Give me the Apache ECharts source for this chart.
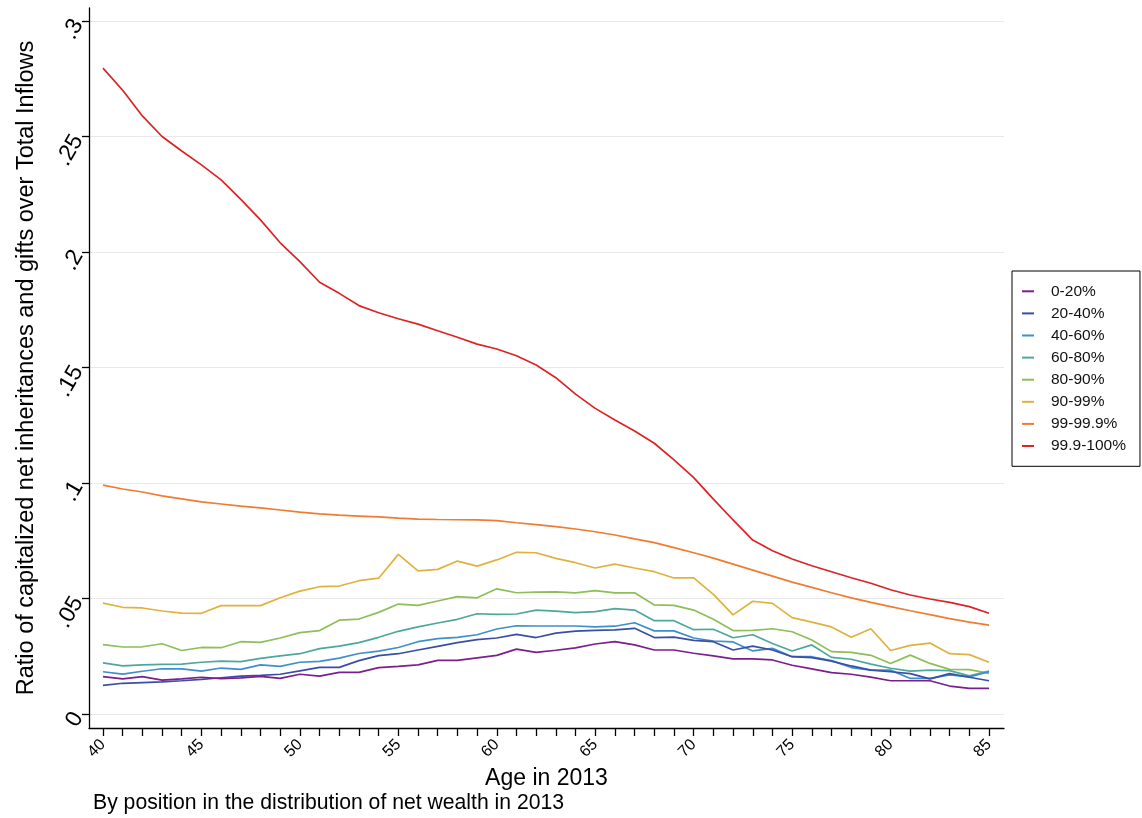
<!DOCTYPE html>
<html>
<head>
<meta charset="utf-8">
<script src="https://cdn.jsdelivr.net/npm/echarts@6/dist/echarts.min.js"></script>
<style>
  html, body { margin: 0; padding: 0; background: #fff; }
  #chart { width: 1142px; height: 818px; }
</style>
</head>
<body>
<div id="chart"></div>
<script>
// ages 40..85
var ages = [];
for (var a = 40; a <= 85; a++) ages.push(a);

var groupNames = ['0-20%', '20-40%', '40-60%', '60-80%', '80-90%', '90-99%', '99-99.9%', '99.9-100%'];
var groupColors = ['#7b1f8e', '#3b4ea6', '#3f8fcc', '#4ea79c', '#8cbf57', '#e0b23d', '#ef7c30', '#dd2323'];

var p0_20 = [0.0162, 0.0152, 0.0162, 0.0147, 0.0152, 0.0159, 0.0153, 0.0156, 0.0163, 0.0154,
  0.0172, 0.0164, 0.0180, 0.0180, 0.0201, 0.0206, 0.0213, 0.0232, 0.0232, 0.0243,
  0.0254, 0.0281, 0.0267, 0.0276, 0.0286, 0.0303, 0.0313, 0.0299, 0.0277, 0.0277,
  0.0263, 0.0252, 0.0239, 0.0239, 0.0234, 0.0211, 0.0195, 0.0179, 0.0172, 0.0160,
  0.0144, 0.0144, 0.0144, 0.0121, 0.0111, 0.0111];
var p20_40 = [0.0124, 0.0133, 0.0136, 0.0139, 0.0144, 0.0150, 0.0157, 0.0164, 0.0167, 0.0172,
  0.0187, 0.0202, 0.0202, 0.0231, 0.0253, 0.0261, 0.0277, 0.0293, 0.0309, 0.0322,
  0.0329, 0.0345, 0.0331, 0.0350, 0.0359, 0.0362, 0.0364, 0.0371, 0.0331, 0.0333,
  0.0319, 0.0313, 0.0277, 0.0294, 0.0277, 0.0248, 0.0244, 0.0229, 0.0208, 0.0190,
  0.0183, 0.0175, 0.0152, 0.0175, 0.0159, 0.0144];
var p40_60 = [0.0183, 0.0173, 0.0185, 0.0196, 0.0195, 0.0186, 0.0199, 0.0193, 0.0213, 0.0206,
  0.0224, 0.0228, 0.0242, 0.0262, 0.0272, 0.0288, 0.0313, 0.0326, 0.0332, 0.0343,
  0.0368, 0.0382, 0.0381, 0.0381, 0.0381, 0.0377, 0.0380, 0.0395, 0.0360, 0.0360,
  0.0329, 0.0316, 0.0312, 0.0273, 0.0284, 0.0248, 0.0248, 0.0231, 0.0201, 0.0190,
  0.0190, 0.0154, 0.0154, 0.0169, 0.0161, 0.0183];
var p60_80 = [0.0221, 0.0208, 0.0213, 0.0215, 0.0216, 0.0224, 0.0229, 0.0227, 0.0241, 0.0252,
  0.0261, 0.0283, 0.0294, 0.0309, 0.0332, 0.0358, 0.0377, 0.0394, 0.0410, 0.0434,
  0.0431, 0.0433, 0.0450, 0.0445, 0.0439, 0.0443, 0.0456, 0.0450, 0.0404, 0.0404,
  0.0365, 0.0367, 0.0330, 0.0343, 0.0305, 0.0273, 0.0299, 0.0245, 0.0237, 0.0216,
  0.0198, 0.0186, 0.0190, 0.0188, 0.0165, 0.0186];
var p80_90 = [0.0300, 0.0290, 0.0291, 0.0304, 0.0275, 0.0288, 0.0287, 0.0313, 0.0310, 0.0329,
  0.0352, 0.0361, 0.0406, 0.0411, 0.0440, 0.0476, 0.0470, 0.0489, 0.0508, 0.0503,
  0.0542, 0.0525, 0.0528, 0.0529, 0.0524, 0.0534, 0.0524, 0.0525, 0.0472, 0.0470,
  0.0450, 0.0410, 0.0361, 0.0362, 0.0369, 0.0356, 0.0320, 0.0270, 0.0267, 0.0254,
  0.0219, 0.0255, 0.0219, 0.0193, 0.0192, 0.0176];
var p90_99 = [0.0480, 0.0462, 0.0459, 0.0446, 0.0437, 0.0436, 0.0469, 0.0469, 0.0469, 0.0503,
  0.0532, 0.0551, 0.0554, 0.0577, 0.0588, 0.0691, 0.0620, 0.0626, 0.0662, 0.0640,
  0.0667, 0.0700, 0.0698, 0.0674, 0.0655, 0.0632, 0.0649, 0.0632, 0.0616, 0.0589,
  0.0589, 0.0518, 0.0429, 0.0488, 0.0479, 0.0417, 0.0398, 0.0377, 0.0332, 0.0369,
  0.0275, 0.0297, 0.0307, 0.0261, 0.0257, 0.0224];
var p99_999 = [0.0991, 0.0974, 0.0961, 0.0944, 0.0931, 0.0918, 0.0909, 0.0900, 0.0892, 0.0883,
  0.0874, 0.0866, 0.0861, 0.0857, 0.0853, 0.0848, 0.0844, 0.0842, 0.0841, 0.0840,
  0.0837, 0.0828, 0.0820, 0.0811, 0.0801, 0.0789, 0.0775, 0.0758, 0.0742, 0.0720,
  0.0698, 0.0675, 0.0649, 0.0623, 0.0597, 0.0571, 0.0548, 0.0525, 0.0503, 0.0483,
  0.0465, 0.0447, 0.0430, 0.0413, 0.0398, 0.0385];
var p999_100 = [0.2796, 0.2700, 0.2589, 0.2500, 0.2437, 0.2377, 0.2312, 0.2228, 0.2139, 0.2040,
  0.1958, 0.1869, 0.1821, 0.1768, 0.1737, 0.1711, 0.1688, 0.1659, 0.1631, 0.1601,
  0.1580, 0.1551, 0.1511, 0.1456, 0.1385, 0.1323, 0.1273, 0.1225, 0.1172, 0.1100,
  0.1023, 0.0930, 0.0840, 0.0753, 0.0707, 0.0671, 0.0642, 0.0616, 0.0590, 0.0566,
  0.0538, 0.0515, 0.0498, 0.0483, 0.0465, 0.0436];

var xLabelValues = [40, 45, 50, 55, 60, 65, 70, 75, 80, 85];
var yTickValues = [0, 0.05, 0.1, 0.15, 0.2, 0.25, 0.3];

var allSeries = [p0_20, p20_40, p40_60, p60_80, p80_90, p90_99, p99_999, p999_100];

var chart = echarts.init(document.getElementById('chart'));
var font = 'Liberation Sans, Arial, sans-serif';

var series = allSeries.map(function (vals, i) {
  return {
    name: groupNames[i],
    type: 'line',
    showSymbol: false,
    silent: true,
    data: ages.map(function (age, j) { return [age, vals[j]]; }),
    lineStyle: { color: groupColors[i], width: 1.7 },
    itemStyle: { color: groupColors[i] },
    z: 10 - i
  };
});

var option = {
  animation: false,
  textStyle: { fontFamily: font },
  title: {
    text: 'By position in the distribution of net wealth in 2013',
    left: 93,
    top: 793,
    padding: 0,
    textStyle: { fontFamily: font, fontSize: 21.2, fontWeight: 'normal', color: '#000' }
  },
  grid: { left: 89, right: 138, top: 8, bottom: 90 },
  legend: {
    orient: 'vertical',
    left: 1012,
    top: 271,
    padding: [12, 14, 12, 10],
    borderColor: '#000',
    borderWidth: 1,
    itemWidth: 12,
    itemHeight: 2,
    itemGap: 5.5,
    icon: 'rect',
    textStyle: { fontFamily: font, fontSize: 15.5, color: '#111', lineHeight: 16.6, padding: [0, 0, 0, 12] },
    data: groupNames
  },
  xAxis: {
    type: 'value',
    min: 39.29,
    max: 85.76,
    name: 'Age in 2013',
    nameLocation: 'middle',
    nameGap: 35,
    nameTextStyle: { fontFamily: font, fontSize: 23, color: '#000' },
    axisLine: { show: true, onZero: false, lineStyle: { color: '#000', width: 1.3 } },
    axisTick: { show: true, length: 8, customValues: ages, lineStyle: { color: '#000', width: 1.3 } },
    axisLabel: {
      customValues: xLabelValues,
      rotate: 45,
      fontSize: 16,
      color: '#000',
      margin: 14
    },
    splitLine: { show: false }
  },
  yAxis: {
    type: 'value',
    min: -0.00606,
    max: 0.30563,
    name: 'Ratio of capitalized net inheritances and gifts over Total Inflows',
    nameLocation: 'middle',
    nameGap: 50,
    nameTextStyle: { fontFamily: font, fontSize: 23.5, color: '#000' },
    axisLine: { show: true, onZero: false, lineStyle: { color: '#000', width: 1.3 } },
    axisTick: { show: true, length: 7, customValues: yTickValues, lineStyle: { color: '#000', width: 1.3 } },
    axisLabel: {
      customValues: yTickValues,
      rotate: 60,
      fontSize: 23,
      color: '#000',
      margin: 11,
      formatter: function (v) {
        if (Math.abs(v) < 1e-9) return '0';
        return String(+v.toFixed(2)).replace(/^0\./, '.');
      }
    },
    splitLine: { show: true, lineStyle: { color: '#e9e9e9', width: 1.2 } }
  },
  series: series
};

chart.setOption(option);
</script>
</body>
</html>
